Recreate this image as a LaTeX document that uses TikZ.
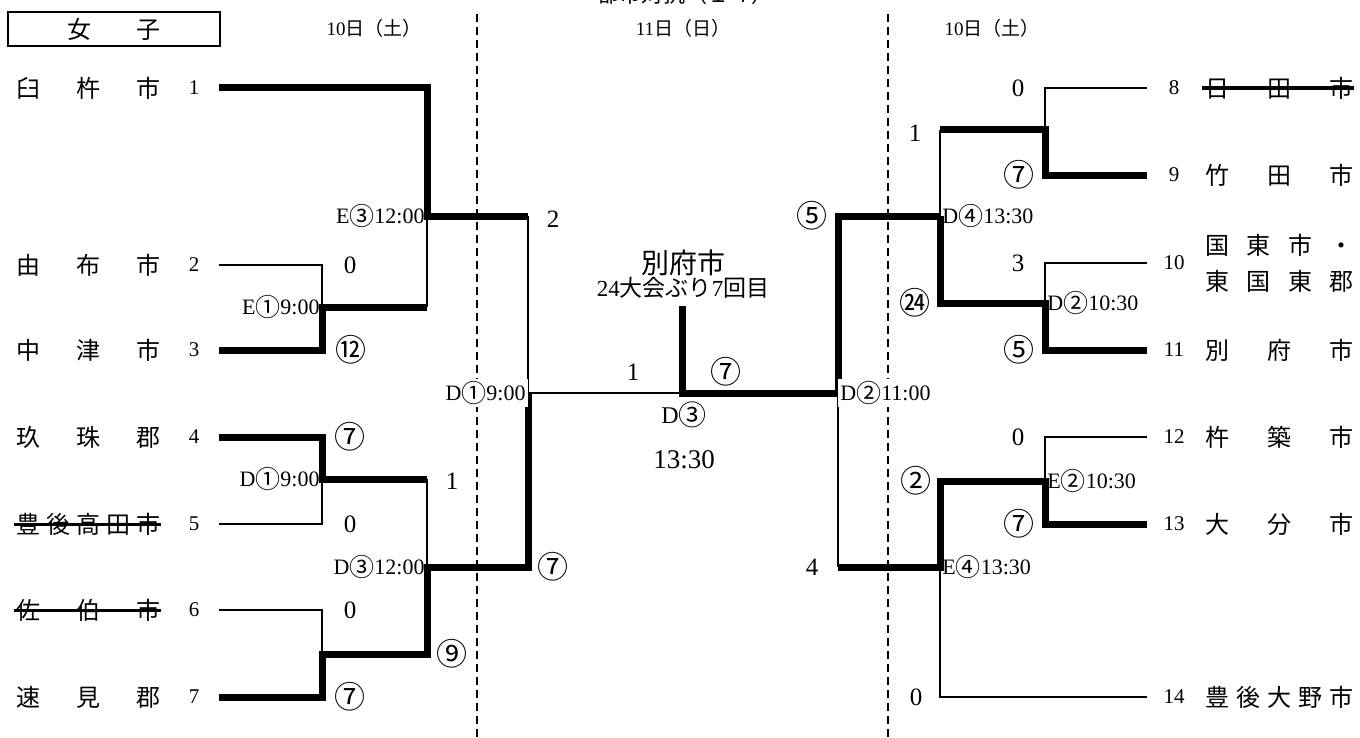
\documentclass[tikz,border=0pt]{standalone}
\usepackage{fontspec}
\setmainfont{Liberation Serif}
\newfontfamily\jp{Noto Sans CJK JP}
\newcommand{\fs}[1]{\fontsize{#1}{#1}\selectfont}
\newcommand{\cl}[1]{\raisebox{-1.1pt}{\jp\fs{12.5}#1}}
\begin{document}
\begin{tikzpicture}[x=0.5pt,y=-0.5pt,
  thinln/.style={line width=0.85pt},
  heavy/.style={line width=3.5pt, line join=miter},
  dashln/.style={line width=0.7pt, dash pattern=on 4pt off 2.5pt},
  team/.style={anchor=west, inner sep=0pt, font={\jp\fs{12}}},
  num/.style={inner sep=0pt, font={\fs{10.5}}},
  score/.style={inner sep=0pt, font={\fs{12.5}}},
  circ/.style={inner sep=0pt, font={\jp\fs{15.5}}},
  lbl/.style={inner sep=1pt, font={\fs{11}}},
  strike/.style={line width=1.5pt},
  date/.style={inner sep=0pt, font={\fs{9.5}}},
]
\useasboundingbox (0,0) rectangle (1360,738);

% title (cut off at top) and dates
\node[inner sep=0pt, font={\jp\fs{11}}] (title) at (685,-6) {都市対抗（１４）};
\node[date] (dateL) at (374,28) {10{\jp 日（土）}};
\node[date] (dateC) at (683,28) {11{\jp 日（日）}};
\node[date] (dateR) at (992,28) {10{\jp 日（土）}};
\node[draw, line width=1pt, minimum width=106pt, minimum height=17pt, inner sep=0pt, font={\jp\fs{12}}] (hdr) at (114,29) {\makebox[47pt][s]{女\hfill 子}};

% day separators
\coordinate (dl1) at (477,14); \coordinate (dl2) at (477,738);
\coordinate (dr1) at (888,14); \coordinate (dr2) at (888,738);
\draw[dashln] (dl1) -- (dl2);
\draw[dashln] (dr1) -- (dr2);

% left teams
\node[team] (n1) at (16,88)  {\makebox[72pt][s]{臼\hfill 杵\hfill 市}};
\node[team] (n2) at (16,265) {\makebox[72pt][s]{由\hfill 布\hfill 市}};
\node[team] (n3) at (16,350) {\makebox[72pt][s]{中\hfill 津\hfill 市}};
\node[team] (n4) at (16,437) {\makebox[72pt][s]{玖\hfill 珠\hfill 郡}};
\node[team] (n5) at (16,524) {\makebox[72pt][s]{豊\hfill 後\hfill 高\hfill 田\hfill 市}};
\node[team] (n6) at (16,610) {\makebox[72pt][s]{佐\hfill 伯\hfill 市}};
\node[team] (n7) at (16,697) {\makebox[72pt][s]{速\hfill 見\hfill 郡}};
\draw[strike] (n5.west) ++(-2,0) coordinate (s5a) -- (n5.east) ++(6,0) coordinate (s5b);
\draw[strike] (n6.west) ++(-2,0) coordinate (s6a) -- (n6.east) ++(6,0) coordinate (s6b);
\node[num] (k1) at (194,88) {1};
\node[num] (k2) at (194,265) {2};
\node[num] (k3) at (194,350) {3};
\node[num] (k4) at (194,437) {4};
\node[num] (k5) at (194,524) {5};
\node[num] (k6) at (194,610) {6};
\node[num] (k7) at (194,697) {7};

% right teams
\node[team] (n8)  at (1205,88)  {\makebox[74pt][s]{日\hfill 田\hfill 市}};
\node[team] (n9)  at (1205,175) {\makebox[74pt][s]{竹\hfill 田\hfill 市}};
\node[team] (n10a) at (1205,245) {\makebox[74pt][s]{国\hfill 東\hfill 市\hfill ・}};
\node[team] (n10b) at (1205,281) {\makebox[74pt][s]{東\hfill 国\hfill 東\hfill 郡}};
\node[team] (n11) at (1205,350) {\makebox[74pt][s]{別\hfill 府\hfill 市}};
\node[team] (n12) at (1205,437) {\makebox[74pt][s]{杵\hfill 築\hfill 市}};
\node[team] (n13) at (1205,524) {\makebox[74pt][s]{大\hfill 分\hfill 市}};
\node[team] (n14) at (1205,697) {\makebox[74pt][s]{豊\hfill 後\hfill 大\hfill 野\hfill 市}};
\draw[line width=2pt] (n8.west) ++(-3,0) coordinate (s8a) -- (n8.east) ++(1,0) coordinate (s8b);
\node[num] (k8)  at (1174,88)  {8};
\node[num] (k9)  at (1174,175) {9};
\node[num] (k10) at (1174,263) {10};
\node[num] (k11) at (1174,350) {11};
\node[num] (k12) at (1174,437) {12};
\node[num] (k13) at (1174,524) {13};
\node[num] (k14) at (1174,697) {14};

% bracket coordinates
\coordinate (a1) at (219,88);  \coordinate (a2) at (219,265);
\coordinate (a3) at (219,350); \coordinate (a4) at (219,437);
\coordinate (a5) at (219,524); \coordinate (a6) at (219,610);
\coordinate (a7) at (219,697);
\coordinate (e1) at (322,307); \coordinate (d1) at (322,479);
\coordinate (r67) at (322,654);
\coordinate (e3) at (427,216); \coordinate (d3) at (427,567);
\coordinate (dc) at (528,393);
\coordinate (fin) at (682,393); \coordinate (champ) at (682,306);
\coordinate (d2) at (838,393);
\coordinate (d4) at (940,216); \coordinate (e4) at (940,567);
\coordinate (r89) at (1045,130); \coordinate (d2r) at (1045,303);
\coordinate (e2) at (1045,481);
\coordinate (b8) at (1147,88);   \coordinate (b9) at (1147,175);
\coordinate (b10) at (1147,263); \coordinate (b11) at (1147,350);
\coordinate (b12) at (1147,437); \coordinate (b13) at (1147,524);
\coordinate (b14) at (1147,697);

% left bracket
\draw[heavy] (a1) -| (e3) -- (e3 -| dc);
\draw[thinln] (e3 -| dc) -- (dc);
\draw[thinln] (a2) -| (e1);
\draw[heavy] (a3) -| (e1) -- (e1 -| e3);
\draw[thinln] (e1 -| e3) -- (e3);
\draw[heavy] (a4) -| (d1) -- (d1 -| e3);
\draw[thinln] (a5) -| (d1);
\draw[thinln] (d1 -| e3) -- (d3);
\draw[thinln] (a6) -| (r67);
\draw[heavy] (a7) -| (r67) -- (r67 -| d3) -- (d3) -- (d3 -| dc) -- (dc);
% final
\draw[thinln] (dc) -- (fin);
\draw[heavy] (champ) -- (fin) -- (d2) -- (d2 |- d4) -- (d4);
% right bracket
\draw[thinln] (d2) -- (d2 |- e4);
\draw[heavy] (d2 |- e4) -- (e4) -- (e4 |- e2) -- (e2) -- (e2 |- b13) -- (b13);
\draw[thinln] (e4) -- (e4 |- b14) -- (b14);
\draw[thinln] (e2) -- (e2 |- b12) -- (b12);
\draw[thinln] (d4) -- (d4 |- r89);
\draw[heavy] (d4 |- r89) -- (r89) -- (r89 |- b9) -- (b9);
\draw[thinln] (r89) -- (r89 |- b8) -- (b8);
\draw[heavy] (d4) -- (d4 |- d2r) -- (d2r) -- (d2r |- b11) -- (b11);
\draw[thinln] (d2r) -- (d2r |- b10) -- (b10);

% match labels
\node[lbl, anchor=east] (m1) at (e1) {E\cl{①}9:00};
\node[lbl, anchor=east] (m2) at (d1) {D\cl{①}9:00};
\node[lbl, anchor=east] (m3) at (e3) {E\cl{③}12:00};
\node[lbl, anchor=east] (m4) at (d3) {D\cl{③}12:00};
\node[lbl, anchor=east, fill=white] (m5) at (dc) {D\cl{①}9:00};
\node[lbl, anchor=west, fill=white] (m6) at (d2) {D\cl{②}11:00};
\node[lbl, anchor=west] (m7) at (d4) {D\cl{④}13:30};
\node[lbl, anchor=west] (m8) at (d2r) {D\cl{②}10:30};
\node[lbl, anchor=west] (m9) at (e2) {E\cl{②}10:30};
\node[lbl, anchor=west] (m10) at (e4) {E\cl{④}13:30};

% scores left
\node[score] (c2) at (350,265) {0};
\node[circ]  (c3) at (351,350) {⑫};
\node[circ]  (c4) at (350,437) {⑦};
\node[score] (c5) at (350,524) {0};
\node[score] (c6) at (350,610) {0};
\node[circ]  (c7) at (350,697) {⑦};
\node[score] (c45) at (452,481) {1};
\node[circ]  (c67) at (452,654) {⑨};
\node[score] (c1) at (553,219) {2};
\node[circ]  (c47) at (553,567) {⑦};
% final
\node[score] (f1) at (633,372) {1};
\node[circ]  (f2) at (726,372) {⑦};
\node[inner sep=0pt, font={\jp\fs{14}}] (champn) at (683,263) {別府市};
\node[inner sep=0pt, font={\fs{11.5}}] (champt) at (683,288) {24{\jp 大会ぶり}7{\jp 回目}};
\node[inner sep=0pt, font={\fs{12}}] (fd) at (684,415) {D\raisebox{-1.2pt}{\jp\fs{14}③}};
\node[inner sep=0pt, font={\fs{13.5}}] (ft) at (684,460) {13:30};
% scores right
\node[circ]  (g1) at (812,216) {⑤};
\node[score] (g2) at (812,567) {4};
\node[score] (h1) at (915,133) {1};
\node[circ]  (h2) at (915,303) {㉔};
\node[circ]  (h3) at (916,481) {②};
\node[score] (h4) at (916,697) {0};
\node[score] (i8)  at (1018,88)  {0};
\node[circ]  (i9)  at (1019,175) {⑦};
\node[score] (i10) at (1018,263) {3};
\node[circ]  (i11) at (1019,350) {⑤};
\node[score] (i12) at (1018,437) {0};
\node[circ]  (i13) at (1019,524) {⑦};
\end{tikzpicture}
\end{document}
